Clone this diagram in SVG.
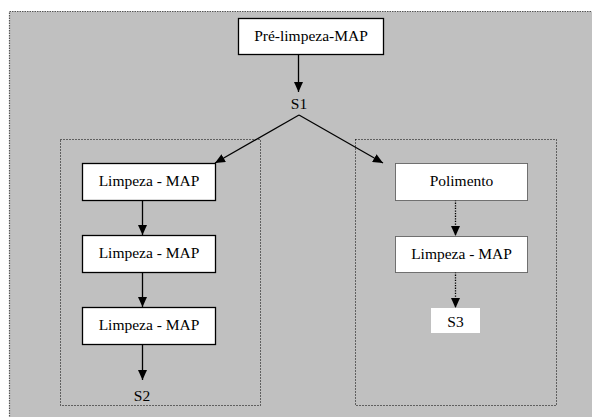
<svg xmlns="http://www.w3.org/2000/svg" width="592" height="417" viewBox="0 0 592 417">
<style>
.box{fill:#fff;stroke:#000;stroke-width:1.3}
.dbox{fill:#fff;stroke:#000;stroke-width:1;stroke-dasharray:1,1}
.grp{fill:none;stroke:#000;stroke-width:1;stroke-dasharray:1,2}
.t{font-family:'Liberation Serif','Tinos','Times New Roman','DejaVu Serif',serif;font-size:15.5px;fill:#000;text-anchor:middle}
.c{fill:none;stroke:#000;stroke-width:1.3}
.cd{fill:none;stroke:#000;stroke-width:1.3;stroke-dasharray:1.3,1.3}
</style>
<defs>
<marker id="ah" markerUnits="userSpaceOnUse" markerWidth="11" markerHeight="9" refX="10" refY="4.5" orient="auto">
<path d="M0,0 L10,4.5 L0,9 z" fill="#000"/>
</marker>
</defs>
<rect x="9.5" y="11.5" width="590" height="410" fill="#c0c0c0" stroke="#555" stroke-width="1.2" stroke-dasharray="1.5,1"/>
<rect id="group-left" class="grp" x="60.5" y="139.5" width="200" height="266"/>
<rect id="group-right" class="grp" x="355.5" y="139.5" width="201" height="266"/>
<g id="connectors">
<line class="c" x1="298.5" y1="54" x2="298.5" y2="92" marker-end="url(#ah)"/>
<line class="c" x1="299" y1="115" x2="383" y2="163" marker-end="url(#ah)"/>
<line class="c" x1="299" y1="115" x2="215" y2="163" marker-end="url(#ah)"/>
<line class="c" x1="142.5" y1="200" x2="142.5" y2="235" marker-end="url(#ah)"/>
<line class="c" x1="142.5" y1="272" x2="142.5" y2="307" marker-end="url(#ah)"/>
<line class="c" x1="142.5" y1="344" x2="142.5" y2="380" marker-end="url(#ah)"/>
<line class="cd" x1="455.5" y1="200" x2="455.5" y2="236" marker-end="url(#ah)"/>
<line class="cd" x1="455.5" y1="272" x2="455.5" y2="308" marker-end="url(#ah)"/>
</g>
<g id="pre-limpeza">
<rect class="box" x="238.5" y="18.5" width="145" height="36"/>
<text class="t" x="311" y="41" font-family="Liberation Serif, serif">Pré-limpeza-MAP</text>
</g>
<g id="s1"><text class="t" x="299" y="109" font-family="Liberation Serif, serif">S1</text></g>
<g id="limpeza1">
<rect class="box" x="82.5" y="163.5" width="133" height="37"/>
<text class="t" x="149" y="186" font-family="Liberation Serif, serif">Limpeza - MAP</text>
</g>
<g id="limpeza2">
<rect class="box" x="82.5" y="235.5" width="133" height="37"/>
<text class="t" x="149" y="258" font-family="Liberation Serif, serif">Limpeza - MAP</text>
</g>
<g id="limpeza3">
<rect class="box" x="82.5" y="307.5" width="133" height="37"/>
<text class="t" x="149" y="330" font-family="Liberation Serif, serif">Limpeza - MAP</text>
</g>
<g id="s2"><text class="t" x="142" y="401" font-family="Liberation Serif, serif">S2</text></g>
<g id="polimento">
<rect class="dbox" x="395.5" y="163.5" width="132" height="37"/>
<text class="t" x="461.5" y="186" font-family="Liberation Serif, serif">Polimento</text>
</g>
<g id="limpeza4">
<rect class="dbox" x="395.5" y="236.5" width="132" height="36"/>
<text class="t" x="461.5" y="259" font-family="Liberation Serif, serif">Limpeza - MAP</text>
</g>
<g id="s3">
<rect x="431" y="308" width="49" height="25" fill="#fff"/>
<text class="t" x="455.5" y="326.5" font-family="Liberation Serif, serif">S3</text>
</g>
</svg>
